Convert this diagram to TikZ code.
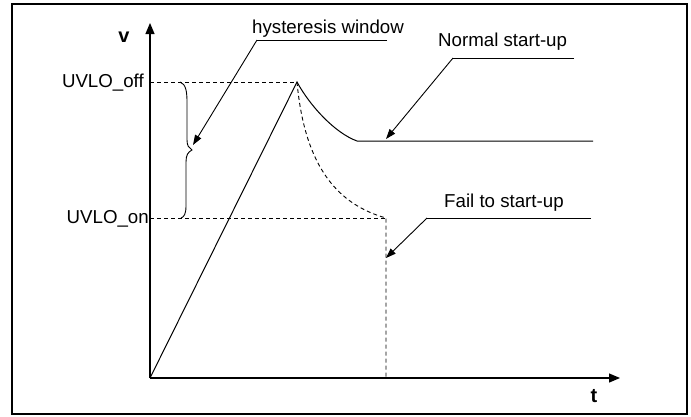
\documentclass[tikz,border=0pt]{standalone}
\usepackage{fontspec}
\setmainfont{Liberation Sans}
\usepackage{tikz}
\usetikzlibrary{arrows.meta}

\begin{document}
\begin{tikzpicture}[
  x=1pt, y=-1pt,
  lbl/.style={inner sep=0pt, font=\fontsize{18.7}{22}\selectfont},
  axlbl/.style={inner sep=0pt, font=\fontsize{20}{24}\selectfont\bfseries},
  axis/.style={-{Triangle[length=11pt, width=9pt]}, line width=1.2pt},
  wave/.style={line width=1pt},
  guide/.style={line width=0.9pt, dash pattern=on 4pt off 3pt},
  leader/.style={line width=0.9pt},
  pointer/.style={-{Triangle[length=10pt, width=7pt]}, line width=0.9pt},
]
\useasboundingbox (0,0) rectangle (691,416);
\draw[line width=2.5pt] (12,4) rectangle (687,414);

\coordinate (o) at (150,378);
\coordinate (vtop) at (150,23);
\coordinate (tend) at (620,378);
\coordinate (offL) at (150,82);
\coordinate (onL) at (150,218);
\coordinate (peak) at (297,82);
\coordinate (knee) at (357,141);
\coordinate (flat) at (593,141);
\coordinate (onR) at (386,218);

\node[axlbl, anchor=base] (v) at (124,42) {v};
\node[axlbl, anchor=base] (t) at (594,402) {t};
\node[lbl, anchor=base east] (uoff) at (144,87) {UVLO\_off};
\node[lbl, anchor=base east] (uon) at (149,223) {UVLO\_on};
\node[lbl, anchor=base west] (hw) at (252,33) {hysteresis window};
\node[lbl, anchor=base west] (ns) at (438,46) {Normal start-up};
\node[lbl, anchor=base west] (fs) at (444,207) {Fail to start-up};

\draw[guide] (offL) -- (peak);
\draw[guide] (onL) -- (onR);
\draw[guide] (peak) .. controls (305,170) and (340,205) .. (onR) -- (onR |- o);
\draw[wave] (o) -- (peak) .. controls (310,106) and (335,133) .. (knee) -- (flat);

\draw[leader] (180,82) .. controls (186,84) and (187,92) .. (187,102) -- (187,140)
  .. controls (187,146) and (189,148) .. (192,150)
  .. controls (188,152) and (186,155) .. (186,162) -- (186,206)
  .. controls (186,214) and (184,217) .. (181,218);

\coordinate (hwL) at (257,40);
\coordinate (hwR) at (387,40);
\coordinate (hwTip) at (193,145);
\draw[leader] (hwR) -- (hwL);
\draw[pointer] (hwL) -- (hwTip);

\coordinate (nsL) at (453,58);
\coordinate (nsR) at (574,58);
\coordinate (nsTip) at (386,139);
\draw[leader] (nsR) -- (nsL);
\draw[pointer] (nsL) -- (nsTip);

\coordinate (fsL) at (427,218);
\coordinate (fsR) at (591,218);
\coordinate (fsTip) at (386,258);
\draw[leader] (fsR) -- (fsL);
\draw[pointer] (fsL) -- (fsTip);

\draw[axis] (o) -- (vtop);
\draw[axis] (o) -- (tend);
\end{tikzpicture}
\end{document}
